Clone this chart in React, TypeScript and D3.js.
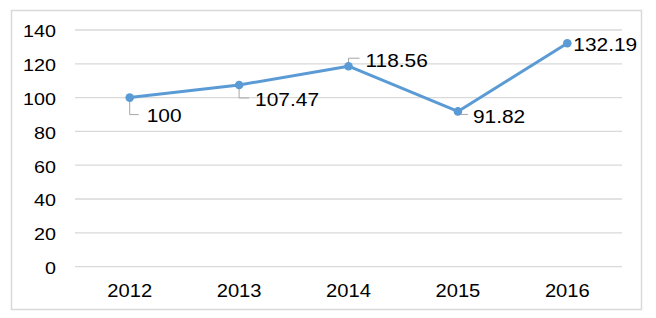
import { useEffect, useRef } from "react";
import * as d3 from "d3";

const years = ["2012", "2013", "2014", "2015", "2016"];
const values = [100, 107.47, 118.56, 91.82, 132.19];
const yTicks = [0, 20, 40, 60, 80, 100, 120, 140];

// where each data label sits relative to its point, plus its leader line
const labelOffsets = [
  { dx: 17, dy: 18, leader: [[0, 2], [0, 17], [9, 17]] },
  { dx: 16, dy: 14, leader: [[0, 2], [0, 13], [10, 13]] },
  { dx: 17, dy: -6, leader: [[0, -2], [0, -8], [11, -8]] },
  { dx: 15, dy: 5, leader: [[2, 3], [10, 3]] },
  { dx: 6, dy: 1, leader: null },
];

const W = 656;
const H = 318;
const FONT = "'Liberation Sans', Arial, sans-serif";

export default function App() {
  const ref = useRef<SVGSVGElement>(null);

  useEffect(() => {
    const svg = d3.select(ref.current);
    svg.selectAll("*").remove();

    const plot = { left: 75, right: 622, top: 30, bottom: 266.6 };

    // outer frame
    svg.append("rect")
      .attr("x", 11.5).attr("y", 10.5)
      .attr("width", 630).attr("height", 299)
      .attr("fill", "#fff")
      .attr("stroke", "#d9d9d9")
      .attr("stroke-width", 1.5);

    const x = d3.scaleBand().domain(years).range([plot.left, plot.right]);
    const y = d3.scaleLinear().domain([0, 140]).range([plot.bottom, plot.top]);
    const cx = (d: string) => (x(d) as number) + x.bandwidth() / 2;

    // gridlines
    svg.append("g").selectAll("line")
      .data(yTicks)
      .enter().append("line")
      .attr("x1", plot.left).attr("x2", plot.right)
      .attr("y1", d => y(d)).attr("y2", d => y(d))
      .attr("stroke", "#d9d9d9")
      .attr("stroke-width", 1.3);

    // y tick labels
    svg.append("g").selectAll("text")
      .data(yTicks)
      .enter().append("text")
      .attr("transform", d => `translate(56,${y(d) + 1.5}) scale(1.16,1)`)
      .attr("text-anchor", "end")
      .attr("dy", "0.35em")
      .style("font-family", FONT)
      .style("font-size", "17px")
      .style("fill", "#000")
      .text(d => d);

    // x tick labels
    svg.append("g").selectAll("text")
      .data(years)
      .enter().append("text")
      .attr("transform", d => `translate(${cx(d)},297) scale(1.12,1)`)
      .attr("text-anchor", "middle")
      .style("font-family", FONT)
      .style("font-size", "18px")
      .style("fill", "#000")
      .text(d => d);

    const pts = years.map((d, i) => ({ year: d, value: values[i], i }));

    // leader lines
    svg.append("g").selectAll("path")
      .data(pts.filter(p => labelOffsets[p.i].leader))
      .enter().append("path")
      .attr("d", p => {
        const px = cx(p.year), py = y(p.value);
        return d3.line()((labelOffsets[p.i].leader as number[][]).map(([a, b]) => [px + a, py + b]));
      })
      .attr("fill", "none")
      .attr("stroke", "#a6a6a6")
      .attr("stroke-width", 1);

    // the line
    const line = d3.line<{ year: string; value: number }>()
      .x(d => cx(d.year))
      .y(d => y(d.value));

    svg.append("path")
      .datum(pts)
      .attr("d", line)
      .attr("fill", "none")
      .attr("stroke", "#5b9bd5")
      .attr("stroke-width", 3)
      .attr("stroke-linejoin", "round");

    svg.append("g").selectAll("circle")
      .data(pts)
      .enter().append("circle")
      .attr("cx", d => cx(d.year))
      .attr("cy", d => y(d.value))
      .attr("r", 4.3)
      .attr("fill", "#5b9bd5");

    // data labels
    svg.append("g").selectAll("text")
      .data(pts)
      .enter().append("text")
      .attr("transform", p => `translate(${cx(p.year) + labelOffsets[p.i].dx},${y(p.value) + labelOffsets[p.i].dy}) scale(1.1,1)`)
      .attr("dy", "0.35em")
      .style("font-family", FONT)
      .style("font-size", "19px")
      .style("fill", "#000")
      .text(p => String(p.value));
  }, []);

  return (
    <svg
      ref={ref}
      width={W}
      height={H}
      style={{ position: "absolute", left: 0, top: 0, background: "#fff" }}
    />
  );
}
